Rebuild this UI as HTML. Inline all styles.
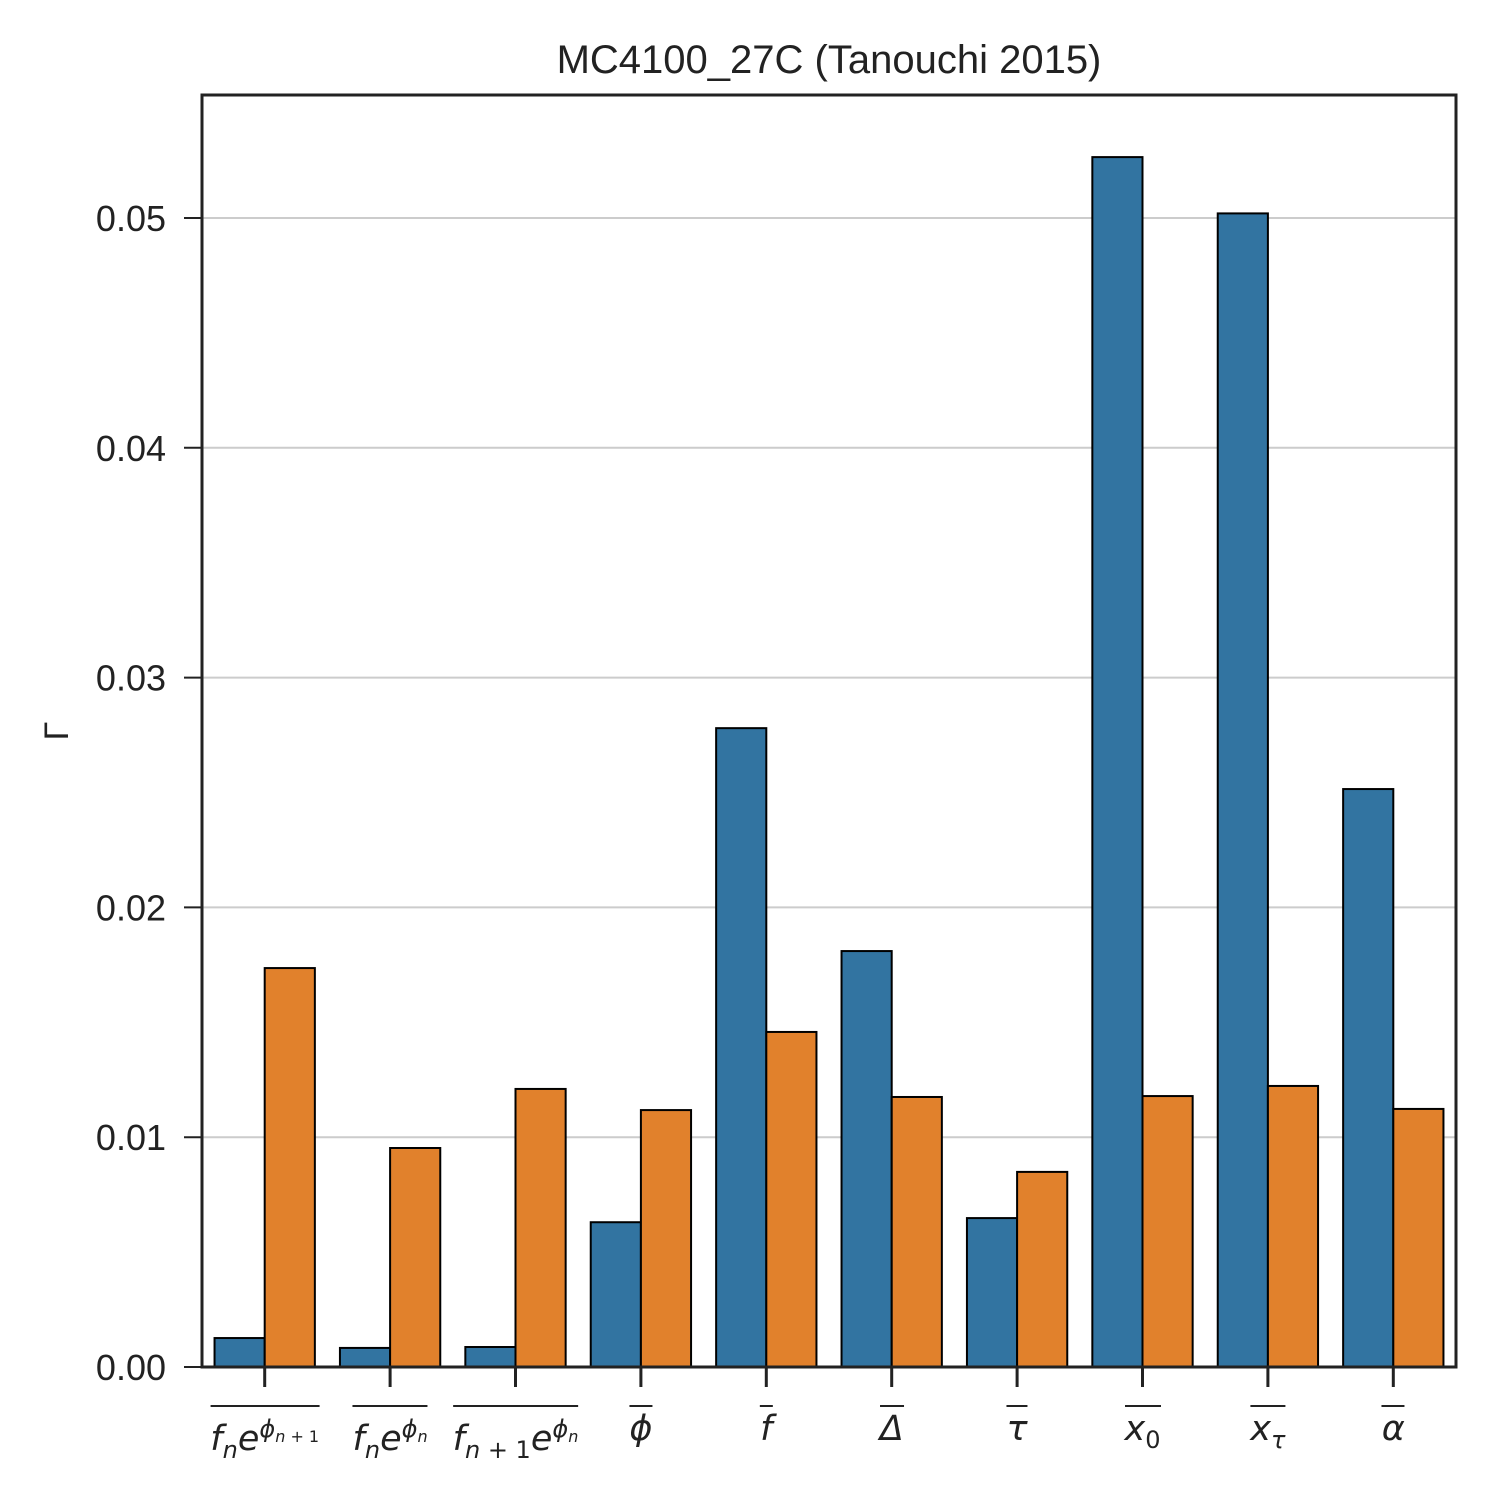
<!DOCTYPE html>
<html><head><meta charset="utf-8"><style>
body{margin:0;background:#fff;width:1500px;height:1500px;overflow:hidden;position:relative;font-family:"Liberation Sans",Arial,sans-serif}
.lab{position:absolute;top:1405px;transform:translateX(-50%);border-top:2px solid #222;font-family:"DejaVu Sans",sans-serif;font-style:italic;font-size:35px;color:#222;white-space:nowrap;line-height:44px;padding-top:0px}
.lab sub{font-size:24px;vertical-align:-8px}
.lab sup{font-size:24px;vertical-align:13px}
.lab sup sub{font-size:16px;vertical-align:-5px}
.lab .up{font-style:normal}
</style></head><body>
<svg id="chart" width="1500" height="1500" style="position:absolute;left:0;top:0">
<text x="829" y="73" font-size="40" text-anchor="middle" fill="#222" font-family="Liberation Sans, sans-serif">MC4100_27C (Tanouchi 2015)</text>
<text x="0" y="0" font-size="34" text-anchor="middle" fill="#222" transform="translate(68,731) rotate(-90)">Γ</text>
<g id="grid"></g><g id="bars"></g><g id="axes"></g>
</svg>
<div id="labels"></div>
<script>
const categories=["fne^phi_n+1","fne^phi_n","fn+1e^phi_n","phi","f","Delta","tau","x0","xtau","alpha"];
const blueValues=[0.00126,0.00083,0.00087,0.0063,0.0278,0.0181,0.00648,0.05265,0.0502,0.02515];
const orangeValues=[0.01736,0.00953,0.0121,0.01118,0.01458,0.01175,0.00849,0.01179,0.01223,0.01123];
const yTicks=[0,0.01,0.02,0.03,0.04,0.05];
const yTickLabels=["0.00","0.01","0.02","0.03","0.04","0.05"];
const labelHtml=['f<sub>n</sub>e<sup>ϕ<sub>n <span class="up">+ 1</span></sub></sup>','f<sub>n</sub>e<sup>ϕ<sub>n</sub></sup>','f<sub>n <span class="up">+ 1</span></sub>e<sup>ϕ<sub>n</sub></sup>','ϕ','f','Δ','τ','x<sub class="up">0</sub>','x<sub>τ</sub>','α'];
const L=202,R=1456,T=95,B=1367;
const y=v=>B-v*22980;
const band=(R-L)/categories.length;
const cx=i=>L+band*(i+0.5);
const NS="http://www.w3.org/2000/svg";
function mk(tag,attrs,parent){const e=document.createElementNS(NS,tag);for(const k in attrs)e.setAttribute(k,attrs[k]);document.getElementById(parent).appendChild(e);return e;}
yTicks.forEach((t,i)=>{
 if(t>0){const g=mk('line',{x1:L,x2:R,y1:y(t),y2:y(t),stroke:'#cccccc','stroke-width':2},'grid');
 
 }
 const tk=mk('line',{x1:L-18,x2:L,y1:y(t),y2:y(t),stroke:'#222','stroke-width':2},'axes');
 
 
 const tx=mk('text',{x:L-36,y:y(t)+13,'font-size':36,'text-anchor':'end',fill:'#222'},'axes');
 tx.textContent=yTickLabels[i];
 
 
});
const bw=band*0.4;
categories.forEach((c,i)=>{
 const b=mk('rect',{x:cx(i)-bw,y:y(blueValues[i]),width:bw,height:B-y(blueValues[i]),fill:'#3274a1',stroke:'#000','stroke-width':2},'bars');
 
 
 const o=mk('rect',{x:cx(i),y:y(orangeValues[i]),width:bw,height:B-y(orangeValues[i]),fill:'#e1812c',stroke:'#000','stroke-width':2},'bars');
 
 
 const tk=mk('line',{x1:cx(i),x2:cx(i),y1:B,y2:B+20,stroke:'#222','stroke-width':3},'axes');
 
 
 const d=document.createElement('div');d.className='lab';d.style.left=cx(i)+'px';d.innerHTML=labelHtml[i];
 
 
 document.getElementById('labels').appendChild(d);
});
const fr=mk('rect',{x:L,y:T,width:R-L,height:B-T,fill:'none',stroke:'#222','stroke-width':3},'axes');


</script>
</body></html>
